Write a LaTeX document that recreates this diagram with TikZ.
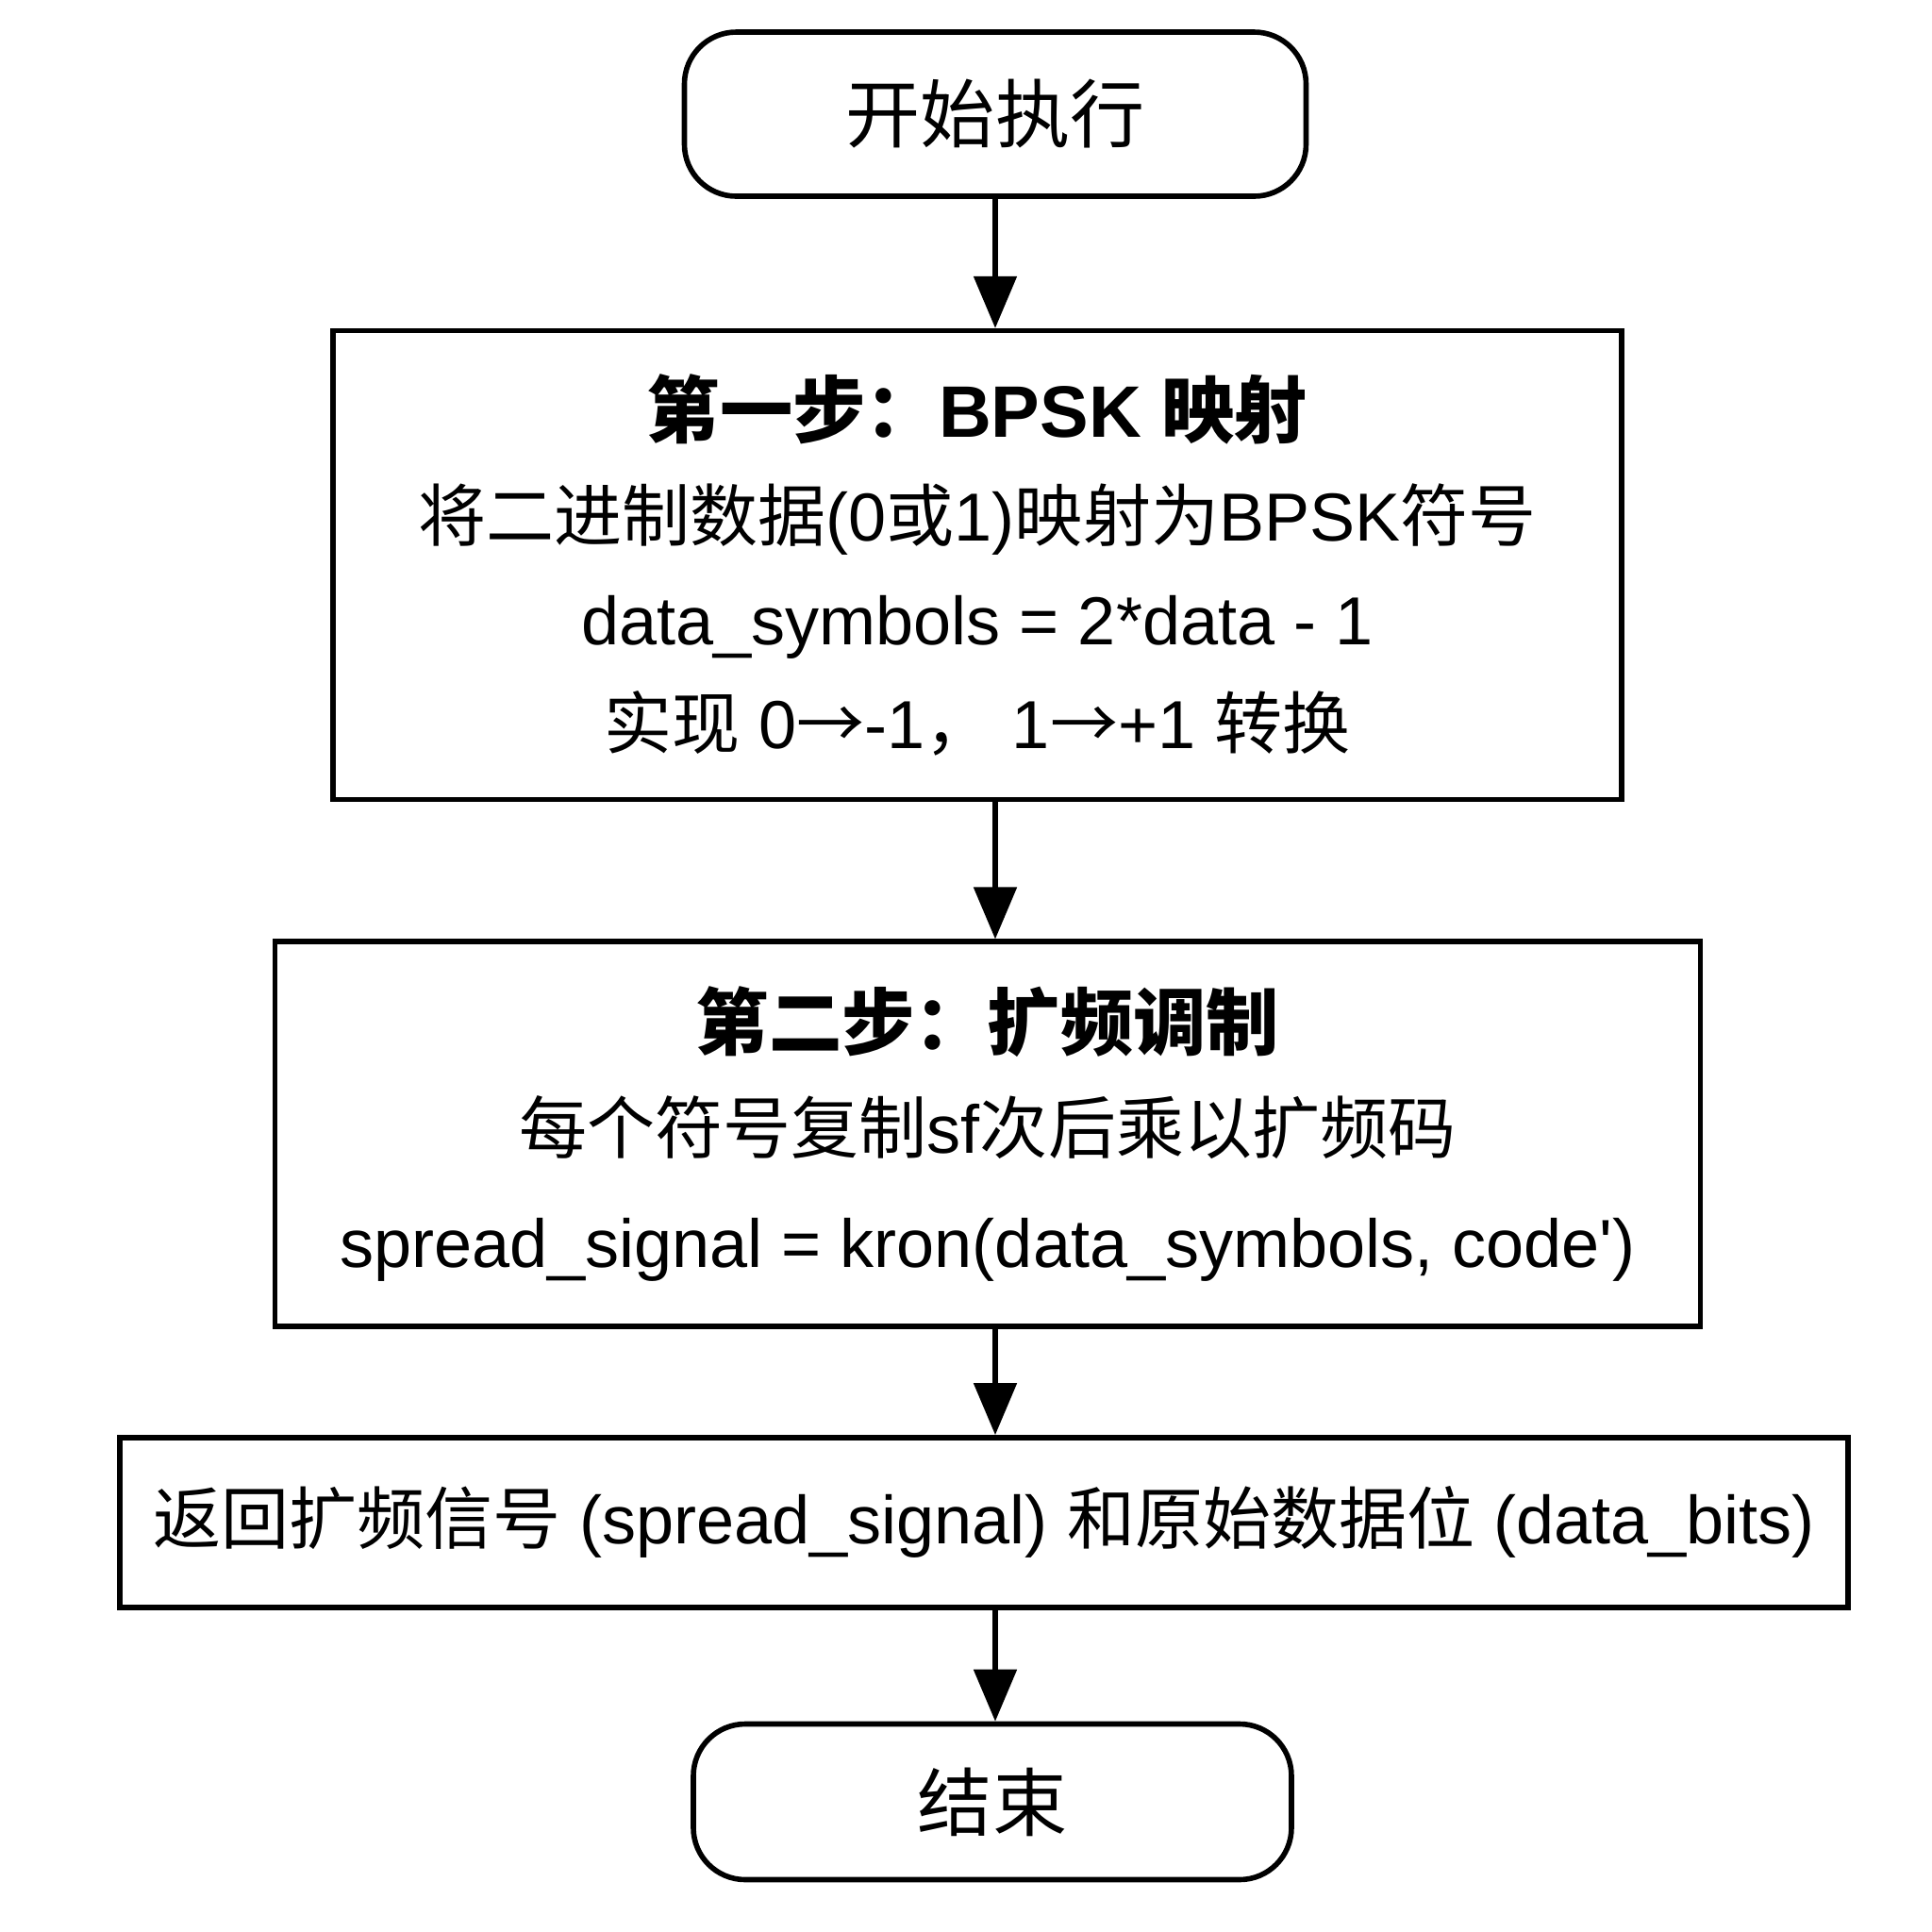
\documentclass[tikz,border=0pt]{standalone}
\usepackage{fontspec}
\setmainfont{Liberation Sans}
\newfontfamily\cjk{Noto Sans CJK SC}
\usetikzlibrary{arrows.meta, positioning}
\newcommand{\zh}[1]{{\cjk #1}}

\begin{document}
\begin{tikzpicture}[
    node distance=1.4cm,
    every node/.style={font=\fontsize{20.5}{31.3}\selectfont},
    terminal/.style={draw, rounded corners=0.55cm, line width=1.6pt, minimum width=6.5cm, minimum height=1.7cm, align=center, font=\fontsize{22.5}{31.3}\selectfont},
    process/.style={draw, line width=1.6pt, align=center},
    arrow/.style={-{Triangle[length=0.55cm, width=0.45cm]}, line width=1.5pt}
]
    \useasboundingbox (0,0) rectangle (20.48,-20.48);

    \node[terminal, minimum width=6.59cm, minimum height=1.74cm] (start) at (10.55,-1.21) {\zh{开始执行}};

    \node[process, below=1.37cm of start, xshift=-0.19cm, minimum width=13.66cm, minimum height=4.97cm] (bpsk)
        {{\bfseries\fontsize{22}{31.3}\selectfont\zh{第一步：}BPSK \zh{映射}}\\
         \zh{将二进制数据}(0\zh{或}1)\zh{映射为}BPSK\zh{符号}\\
         data\_symbols = 2*data - 1\\
         \zh{实现} 0\zh{→}-1\zh{，} 1\zh{→}+1 \zh{转换}};

    \node[process, below=1.45cm of bpsk, xshift=0.11cm, minimum width=15.11cm, minimum height=4.08cm] (spread)
        {{\bfseries\fontsize{22}{31.3}\selectfont\zh{第二步：扩频调制}}\\
         \zh{每个符号复制}sf\zh{次后乘以扩频码}\\[3pt]
         spread\_signal = kron(data\_symbols, code\textquotesingle)};

    \node[process, below=1.12cm of spread, xshift=-0.04cm, minimum width=18.32cm, minimum height=1.8cm] (ret)
        {\zh{返回扩频信号} (spread\_signal) \zh{和原始数据位} (data\_bits)};

    \node[terminal, below=1.18cm of ret, xshift=0.09cm, minimum width=6.34cm, minimum height=1.65cm] (finish) {\zh{结束}};

    \draw[arrow] (start.south) -- (start.south |- bpsk.north);
    \draw[arrow] (start.south |- bpsk.south) -- (start.south |- spread.north);
    \draw[arrow] (start.south |- spread.south) -- (start.south |- ret.north);
    \draw[arrow] (start.south |- ret.south) -- (start.south |- finish.north);
\end{tikzpicture}
\end{document}
